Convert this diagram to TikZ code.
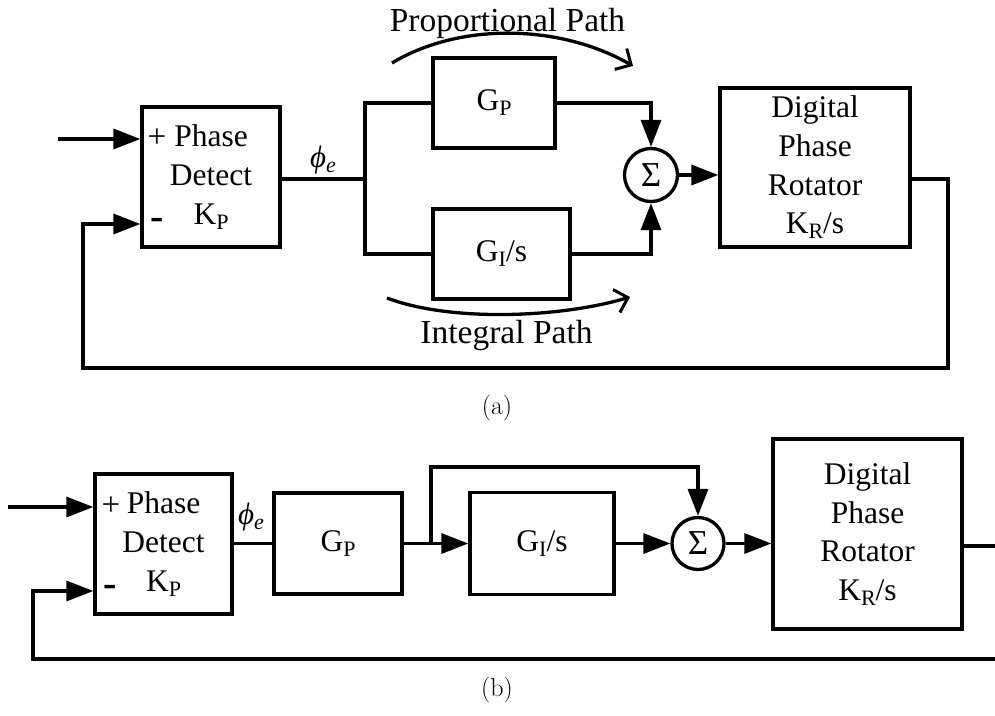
\documentclass[tikz,border=0pt]{standalone}
\usepackage{fontspec}
\newfontfamily\tnr{Liberation Serif}
\usetikzlibrary{arrows.meta}
\newcommand\lsub[1]{\raisebox{-5pt}{\fontsize{22}{22}\selectfont #1}}
\tikzset{
  tri/.tip={Triangle[length=27pt,width=20pt]},
  barb/.tip={Straight Barb[length=12pt,width=24pt,line width=3pt]},
  ln/.style={line width=3.3pt},
  blk/.style={draw,line width=3.3pt,inner sep=0pt,align=center,
    font=\tnr\fontsize{31.5}{38.7}\selectfont},
  sumc/.style={draw,circle,line width=3.3pt,inner sep=0pt,minimum size=#1,
    font=\tnr\fontsize{35}{35}\selectfont},
  lbl/.style={inner sep=0pt,font=\tnr\fontsize{31}{31}\selectfont},
  sgn/.style={inner sep=0pt,font=\tnr\fontsize{33}{33}\selectfont},
  msgn/.style={inner sep=0pt,font=\tnr\bfseries\fontsize{40}{40}\selectfont},
  pathlbl/.style={inner sep=0pt,anchor=base,font=\tnr\fontsize{33.5}{33.5}\selectfont},
  figcap/.style={inner sep=0pt,font=\fontsize{26}{30}\selectfont}
}
\begin{document}
\begin{tikzpicture}[x=1pt,y=-1pt]
\useasboundingbox (0,0) rectangle (995,715);

% ---------------- (a) ----------------
\node[blk,minimum width=138pt,minimum height=140pt] (pd1) at (211,177) {Phase\\Detect\\K\lsub{P}};
\node[sgn] (plus1) at (157,138) {+};
\node[msgn] (minus1) at (157,224) {-};
\node[blk,minimum width=122pt,minimum height=90pt] (gp1) at (494,103) {G\lsub{P}};
\node[blk,minimum width=137pt,minimum height=90pt] (gi1) at (501.5,254) {G\lsub{I}/s};
\node[sumc=53pt] (sum1) at (651,175) {Σ};
\node[blk,minimum width=190pt,minimum height=159pt] (dpr1) at (815,167.5) {Digital\\Phase\\Rotator\\K\lsub{R}/s};
\node[lbl] (phi1) at (323,160) {\textit{ϕ}\lsub{\textit{e}}};

\coordinate (in1) at (58,139);
\coordinate (br1) at (365,179);
\coordinate (fbR1) at (948,368);
\coordinate (fbL1) at (83,368);

\draw[ln,-tri] (in1) -- (in1 -| pd1.west);
\draw[ln] (pd1.east |- br1) -- (br1);
\draw[ln] (gp1.west) -| (br1) |- (gi1.west);
\draw[ln,-tri] (gp1.east) -| (sum1.north);
\draw[ln,-tri] (gi1.east) -| (sum1.south);
\draw[ln,-tri] (sum1.east) -- (sum1.east -| dpr1.west);
\draw[ln,-tri] (dpr1.east |- 0,179) -| (fbR1) -- (fbL1) |- (pd1.west |- 0,224);

\draw[ln,-barb] (392,63) .. controls (460,22) and (560,24) .. (633,66);
\draw[ln,-barb] (387,298) .. controls (450,322) and (560,318) .. (630,297);
\node[pathlbl] (pp) at (507.5,31) {Proportional Path};
\node[pathlbl] (ip) at (506.5,343) {Integral Path};
\node[figcap] (capa) at (497,408) {(a)};

% ---------------- (b) ----------------
\node[blk,minimum width=137pt,minimum height=140pt] (pd2) at (163.5,544) {Phase\\Detect\\K\lsub{P}};
\node[sgn] (plus2) at (111,506) {+};
\node[msgn] (minus2) at (110,591) {-};
\node[blk,minimum width=128pt,minimum height=101pt] (gp2) at (338,543.5) {G\lsub{P}};
\node[blk,minimum width=144pt,minimum height=102pt] (gi2) at (542,543.5) {G\lsub{I}/s};
\node[sumc=52pt] (sum2) at (698,543.5) {Σ};
\node[blk,minimum width=189pt,minimum height=190pt] (dpr2) at (867.5,534) {Digital\\Phase\\Rotator\\K\lsub{R}/s};
\node[lbl] (phi2) at (251,517) {\textit{ϕ}\lsub{\textit{e}}};

\coordinate (in2) at (8,507);
\coordinate (br2) at (431,543.5);
\coordinate (up2) at (431,467);
\coordinate (out2) at (995,546);
\coordinate (fbR2) at (995,659);
\coordinate (fbL2) at (33,659);

\draw[ln,-tri] (in2) -- (in2 -| pd2.west);
\draw[ln] (pd2.east |- gp2.west) -- (gp2.west);
\draw[ln,-tri] (gp2.east) -- (gi2.west);
\draw[ln,-tri] (br2) -- (up2) -| (sum2.north);
\draw[ln,-tri] (gi2.east) -- (sum2.west);
\draw[ln,-tri] (sum2.east) -- (sum2.east -| dpr2.west);
\draw[ln] (dpr2.east |- out2) -- (out2);
\draw[ln,-tri] (fbR2) -- (fbL2) |- (pd2.west |- 0,591);
\node[figcap] (capb) at (497,690) {(b)};
\end{tikzpicture}
\end{document}
